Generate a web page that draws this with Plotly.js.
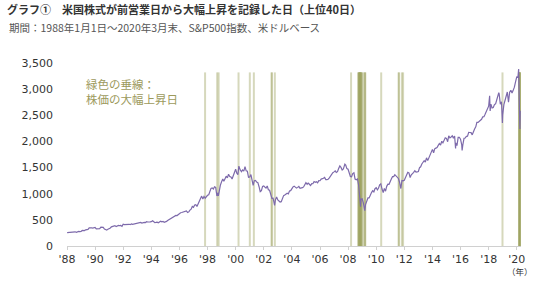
<!DOCTYPE html>
<html><head><meta charset="utf-8">
<script src="https://cdn.plot.ly/plotly-3.0.1.min.js"></script>
<style>html,body{margin:0;padding:0;background:#fff}#c{width:540px;height:282px}</style>
</head><body><div id="c"></div>
<script>
// S&P500 month-end closes, 1988-01 .. 2020-03
const startYear = 1988;
const monthlyClose = [
257,268,259,261,262,274,272,262,272,279,274,278,
297,289,295,310,321,318,346,351,349,341,346,353,
329,332,340,331,361,358,356,323,306,304,322,330,
344,367,375,375,390,371,388,395,388,392,375,417,
409,413,404,415,415,408,424,414,418,419,431,436,
439,443,452,440,450,451,448,464,459,468,462,466,
482,467,446,451,457,444,458,475,463,472,454,459,
470,487,501,515,533,545,562,562,584,582,605,616,
636,640,645,654,669,671,640,652,687,705,757,741,
786,791,757,801,848,885,954,899,947,915,955,970,
980,1049,1102,1112,1091,1134,1121,957,1017,1099,1164,1229,
1280,1238,1286,1335,1302,1373,1329,1320,1283,1363,1389,1469,
1394,1366,1499,1452,1421,1455,1431,1518,1437,1429,1315,1320,
1366,1240,1160,1249,1256,1224,1211,1134,1041,1060,1139,1148,
1130,1107,1147,1077,1067,990,912,916,815,886,936,880,
856,841,848,917,964,975,990,1008,996,1051,1058,1112,
1131,1145,1126,1107,1121,1141,1102,1104,1115,1130,1174,1212,
1181,1204,1181,1157,1192,1191,1234,1220,1229,1207,1249,1248,
1280,1281,1295,1311,1270,1270,1277,1304,1336,1378,1401,1418,
1438,1407,1421,1482,1531,1503,1455,1474,1527,1549,1481,1468,
1379,1331,1323,1386,1400,1280,1267,1283,1166,969,896,903,
826,735,798,873,919,919,987,1021,1057,1036,1096,1115,
1074,1104,1169,1187,1089,1031,1102,1049,1141,1183,1181,1258,
1286,1327,1326,1364,1345,1321,1292,1219,1131,1253,1247,1258,
1312,1366,1408,1398,1310,1362,1379,1407,1441,1412,1416,1426,
1498,1515,1569,1598,1631,1606,1686,1633,1682,1757,1806,1848,
1783,1859,1872,1884,1924,1960,1931,2003,1972,2018,2068,2059,
1995,2105,2068,2086,2107,2063,2104,1972,1920,2079,2080,2044,
1940,1932,2060,2065,2097,2099,2174,2171,2168,2126,2199,2239,
2279,2364,2363,2384,2412,2423,2470,2472,2519,2575,2648,2674,
2824,2714,2641,2648,2705,2718,2816,2902,2914,2712,2760,2507,
2704,2784,2834,2946,2752,2942,2980,2926,2977,3038,3141,3231,
3226,2954,2585
];
// intra-month highs / lows visible in the chart
const extraDates  = ['1988-01-04','1998-10-08','2000-03-24','2002-10-09','2007-10-09','2008-11-20','2009-03-09','2010-07-02','2011-10-03','2015-08-25','2016-02-11','2018-01-26','2018-02-08','2018-09-20','2018-12-24','2020-02-19','2020-03-23'];
const extraValues = [255,959,1527,777,1565,752,677,1022,1099,1867,1829,2873,2581,2931,2351,3386,2237];
// top-40 daily gains (vertical green lines)
const upDays = ['1997-10-28','1998-09-08','1998-10-15','2000-03-16','2001-01-03','2001-04-18',
'2002-07-24','2002-07-29','2002-10-15','2008-03-18','2008-09-19','2008-09-30','2008-10-13',
'2008-10-16','2008-10-20','2008-10-28','2008-11-04','2008-11-13','2008-11-21','2008-11-24',
'2008-12-05','2008-12-08','2008-12-16','2009-01-21','2009-03-10','2009-03-12','2009-03-23',
'2010-05-10','2011-08-09','2011-08-11','2011-10-27','2011-11-30','2018-12-26','2020-03-02',
'2020-03-04','2020-03-10','2020-03-13','2020-03-17','2020-03-24','2020-03-26'];
const tickYears = [1988,1990,1992,1994,1996,1998,2000,2002,2004,2006,2008,2010,2012,2014,2016,2018,2020];
const tickText = tickYears.map(y => "'" + String(y).slice(2));
const yTicks = [0,500,1000,1500,2000,2500,3000,3500];

function monthEnd(i){
  const y = startYear + Math.floor(i/12), m = i%12 + 1;
  const d = new Date(Date.UTC(y, m, 0));
  return d.toISOString().slice(0,10);
}
let pts = monthlyClose.map((v,i)=>[monthEnd(i), v]);
extraDates.forEach((d,i)=>pts.push([d, extraValues[i]]));
pts.sort((a,b)=>a[0]<b[0]?-1:a[0]>b[0]?1:0);

const trace = {
  x: pts.map(p=>p[0]), y: pts.map(p=>p[1]),
  type:'scatter', mode:'lines',
  line:{color:'#7d6aab', width:1.2},
  hoverinfo:'skip'
};
const shapes = upDays.map(d=>({
  type:'line', xref:'x', yref:'y', x0:d, x1:d, y0:0, y1:3320,
  line:{color:'rgba(158,163,95,0.42)', width:2}, layer:'below'
}));

const layout = {
  width:540, height:282,
  margin:{l:67, r:19, t:63, b:36},
  paper_bgcolor:'#fff', plot_bgcolor:'#fff',
  showlegend:false,
  font:{family:'"DejaVu Sans", sans-serif', size:11, color:'#333'},
  xaxis:{
    type:'date', range:['1988-01-01','2020-04-20'],
    tickvals: tickYears.map(y=>y+'-01-01'), ticktext: tickText,
    showgrid:false, zeroline:false, showline:true, linecolor:'#d0d0d0', linewidth:1,
    ticks:'outside', ticklen:3, tickcolor:'#d0d0d0',
    tickfont:{family:'"DejaVu Sans", sans-serif', size:11, color:'#333'}
  },
  yaxis:{
    range:[0,3500], tickvals:yTicks, tickformat:',d',
    showgrid:false, zeroline:false, showline:false,
    ticks:'', ticklabelstandoff:13,
    tickfont:{family:'"DejaVu Sans", sans-serif', size:11, color:'#333'}
  },
  title:{
    text:'<b>グラフ①　米国株式が前営業日から大幅上昇を記録した日（上位40日）</b>',
    xref:'container', yref:'container', x:7/540, xanchor:'left', y:1-10/282, yanchor:'middle',
    font:{family:'"Noto Sans CJK JP", sans-serif', size:11, color:'#333'}
  },
  shapes: shapes,
  annotations:[
    {text:'期間：1988年1月1日～2020年3月末、S&P500指数、米ドルベース',
     xref:'paper', yref:'paper', x:(7-67)/454, y:(246-27)/183, xanchor:'left', yanchor:'middle',
     showarrow:false, font:{family:'"Noto Sans CJK JP", sans-serif', size:10.5, color:'#555'}},
    {text:'緑色の垂線：<br>株価の大幅上昇日',
     xref:'paper', yref:'paper', x:(84-67)/454, y:(246-74)/183, xanchor:'left', yanchor:'top', align:'left',
     showarrow:false, font:{family:'"Noto Sans CJK JP", sans-serif', size:11.5, color:'#9c9a5c'}},
    {text:'（年）',
     xref:'paper', yref:'paper', x:(520-67)/454, y:(246-271)/183, xanchor:'center', yanchor:'middle',
     showarrow:false, font:{family:'"Noto Sans CJK JP", sans-serif', size:8.5, color:'#333'}}
  ]
};
Plotly.newPlot('c',[trace],layout,{staticPlot:true, displayModeBar:false});
</script></body></html>
